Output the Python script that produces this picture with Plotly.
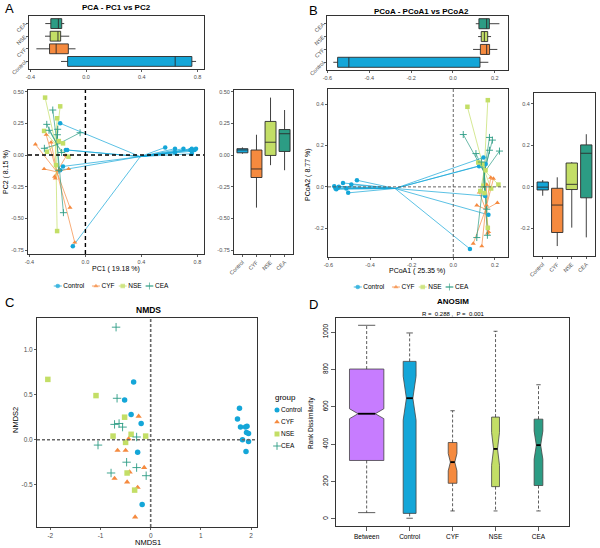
import numpy as np
import plotly.graph_objects as go

W, H = 600, 548
FONT = "Liberation Sans, Arial, sans-serif"

groups = ["Control", "CYF", "NSE", "CEA"]
group_colors = ["#14A6D8", "#F58A3F", "#C3DE66", "#2C9C84"]
group_symbols = ["circle", "triangle-up", "square", "cross-thin-open"]

# ---------------- PCA (panel A) ----------------
pca_ctrl_x = [-0.18, -0.14, -0.13, -0.16, -0.18, -0.09, 0.57, 0.64, 0.70, 0.75, 0.76, 0.78, 0.79, 0.76, 0.64, 0.76]
pca_ctrl_y = [0.25, 0.04, 0.04, -0.09, -0.12, -0.72, 0.06, 0.05, 0.05, 0.04, 0.05, 0.04, 0.05, 0.01, 0.02, 0.03]
pca_cyf_x = [-0.357, -0.28, -0.245, -0.295, -0.22, -0.215, -0.135, -0.12, -0.11, -0.076, -0.19]
pca_cyf_y = [0.084, 0.16, 0.10, -0.11, -0.17, -0.185, -0.005, -0.11, -0.415, -0.69, -0.12]
pca_nse_x = [-0.288, -0.18, -0.202, -0.295, -0.274, -0.16, -0.121, -0.202, -0.21, -0.19]
pca_nse_y = [0.453, 0.384, 0.29, 0.19, 0.026, 0.092, -0.013, -0.60, -0.08, 0.11]
pca_cea_x = [-0.233, -0.276, -0.26, -0.198, -0.038, -0.293, -0.157, -0.19, -0.20, -0.17]
pca_cea_y = [0.355, 0.242, 0.195, 0.203, 0.176, 0.053, -0.455, -0.12, 0.16, 0.02]

# ---------------- PCoA (panel B) ----------------
pcoa_ctrl_x = [-0.463, -0.53, -0.49, -0.572, -0.566, -0.514, -0.505, -0.562, -0.555, -0.55, 0.145, 0.124, 0.156, 0.153, 0.169, 0.08]
pcoa_ctrl_y = [0.032, 0.019, 0.011, 0.003, -0.008, -0.008, -0.029, -0.012, -0.005, 0.0, 0.142, 0.10, 0.11, -0.044, -0.135, -0.30]
pcoa_cyf_x = [0.18, 0.193, 0.161, 0.125, 0.113, 0.212, 0.17, 0.096, 0.137, 0.165, 0.16]
pcoa_cyf_y = [0.045, 0.040, 0.011, -0.027, -0.089, -0.077, -0.218, -0.274, -0.287, -0.225, -0.09]
pcoa_nse_x = [0.068, 0.166, 0.217, 0.182, 0.166, 0.12, 0.14, 0.15, 0.145, 0.13, 0.155]
pcoa_nse_y = [0.387, 0.419, 0.011, -0.008, -0.198, 0.118, 0.11, -0.03, 0.005, -0.02, 0.08]
pcoa_cea_x = [0.048, 0.109, 0.174, 0.188, 0.222, 0.174, 0.161, 0.113, 0.164, 0.135, 0.15]
pcoa_cea_y = [0.253, 0.161, 0.239, 0.226, 0.173, 0.177, -0.108, -0.245, -0.234, 0.12, 0.0]

# ---------------- NMDS (panel C) ----------------
nmds_ctrl_x = [-0.34, -0.52, -0.39, -0.19, -0.26, -0.17, 1.77, 1.73, 1.79, 1.89, 1.92, 1.91, 1.95, 1.83, 1.95, 1.90]
nmds_ctrl_y = [0.64, 0.44, 0.28, 0.18, -0.14, -0.72, 0.35, 0.23, 0.14, 0.14, 0.15, 0.08, 0.07, 0.0, -0.02, -0.13]
nmds_cyf_x = [-0.24, -0.44, -0.66, -0.50, -0.13, -0.42, -0.72, -0.47, -0.26, -0.31]
nmds_cyf_y = [0.26, 0.01, -0.12, -0.12, -0.31, -0.36, -0.43, -0.47, -0.53, -0.86]
nmds_nse_x = [-2.05, -1.09, -0.52, -0.75, -0.39, -0.10, -0.50, -0.47, -0.32]
nmds_nse_y = [0.67, 0.49, 0.25, 0.04, 0.06, 0.04, -0.03, -0.37, -0.56]
nmds_cea_x = [-0.69, -0.67, -0.72, -0.63, -0.56, -0.28, -1.05, -0.48, -0.28, -0.79, -0.09]
nmds_cea_y = [1.25, 0.46, 0.17, 0.18, 0.14, 0.03, -0.06, -0.25, -0.31, -0.37, -0.40]

# ---------------- ANOSIM (panel D) ----------------
anosim_labels = ["Between", "Control", "CYF", "NSE", "CEA"]
anosim_colors = ["#C77CFF", "#14A6D8", "#F58A3F", "#C3DE66", "#2C9C84"]
anosim_lower = [34, 4, 43, 43, 43]
anosim_q1 = [313, 30, 191, 173, 179]
anosim_median = [563, 646, 304, 375, 395]
anosim_q3 = [802, 843, 409, 545, 534]
anosim_upper = [1036, 995, 579, 1004, 718]
samples_per_group = [16, 11, 10, 11]
anosim_R = 0.288
anosim_P = 0.001

# tick labels
pca_x_ticks = [-0.4, 0.0, 0.4, 0.8]
pca_x_text = ["-0.4", "0.0", "0.4", "0.8"]
pca_y_ticks = [-0.75, -0.5, -0.25, 0.0, 0.25, 0.5]
pca_y_text = ["-0.75", "-0.50", "-0.25", "0.00", "0.25", "0.50"]
pcoa_x_ticks = [-0.6, -0.4, -0.2, 0.0, 0.2]
pcoa_x_text = ["-0.6", "-0.4", "-0.2", "0.0", "0.2"]
pcoa_y_ticks = [-0.2, 0.0, 0.2, 0.4]
pcoa_y_text = ["-0.2", "0.0", "0.2", "0.4"]
nmds_x_ticks = [-2, -1, 0, 1, 2]
nmds_x_text = ["-2", "-1", "0", "1", "2"]
nmds_y_ticks = [-0.5, 0.0, 0.5, 1.0]
nmds_y_text = ["-0.5", "0.0", "0.5", "1.0"]
anosim_y_ticks = [0, 200, 400, 600, 800, 1000]


def px_x(p):
    return p / W


def px_y(p):
    return 1 - p / H


fig = go.Figure()


def box_stats(v):
    v = np.asarray(v, float)
    q1, med, q3 = np.percentile(v, [25, 50, 75])
    iqr = q3 - q1
    lo = v[v >= q1 - 1.5 * iqr].min()
    hi = v[v <= q3 + 1.5 * iqr].max()
    return q1, med, q3, lo, hi


def marker_style(color, symbol, size):
    if symbol.startswith("cross"):
        sz = [s + 0.5 if s else 0 for s in size] if isinstance(size, list) else size + 0.5
        return dict(symbol=symbol, size=sz, color=color, line=dict(color=color, width=0.9))
    return dict(symbol=symbol, size=size, color=color, line=dict(width=0))


def add_boxes(values_list, xa, ya, horizontal):
    for g, c, v in zip(groups, group_colors, values_list):
        q1, med, q3, lo, hi = box_stats(v)
        kw = dict(q1=[q1], median=[med], q3=[q3], lowerfence=[lo], upperfence=[hi])
        if horizontal:
            kw.update(y=[g], orientation="h")
        else:
            kw.update(x=[g])
        fig.add_trace(go.Box(**kw, xaxis=xa, yaxis=ya, fillcolor=c,
                             line=dict(color="#2b2b2b", width=0.9), width=0.78,
                             whiskerwidth=0, boxpoints=False, showlegend=False,
                             hoverinfo="skip"))


def add_spider(xs_list, ys_list, xa, ya, size):
    for g, c, xs, ys in zip(groups, group_colors, xs_list, ys_list):
        cx, cy = np.mean(xs), np.mean(ys)
        lx, ly = [], []
        for x, y in zip(xs, ys):
            lx += [x, cx, None]
            ly += [y, cy, None]
        fig.add_trace(go.Scatter(x=lx, y=ly, mode="lines", line=dict(color=c, width=0.7),
                                 xaxis=xa, yaxis=ya, showlegend=False, hoverinfo="skip"))
    for g, c, s, xs, ys in zip(groups, group_colors, group_symbols, xs_list, ys_list):
        fig.add_trace(go.Scatter(x=xs, y=ys, mode="markers", marker=marker_style(c, s, size),
                                 xaxis=xa, yaxis=ya, showlegend=False, hoverinfo="skip"))


# Panel A
add_boxes([pca_ctrl_x, pca_cyf_x, pca_nse_x, pca_cea_x], "x", "y", True)
add_spider([pca_ctrl_x, pca_cyf_x, pca_nse_x, pca_cea_x],
           [pca_ctrl_y, pca_cyf_y, pca_nse_y, pca_cea_y], "x2", "y2", 4.5)
add_boxes([pca_ctrl_y, pca_cyf_y, pca_nse_y, pca_cea_y], "x3", "y3", False)

# Panel B
add_boxes([pcoa_ctrl_x, pcoa_cyf_x, pcoa_nse_x, pcoa_cea_x], "x4", "y4", True)
add_spider([pcoa_ctrl_x, pcoa_cyf_x, pcoa_nse_x, pcoa_cea_x],
           [pcoa_ctrl_y, pcoa_cyf_y, pcoa_nse_y, pcoa_cea_y], "x5", "y5", 4.5)
add_boxes([pcoa_ctrl_y, pcoa_cyf_y, pcoa_nse_y, pcoa_cea_y], "x6", "y6", False)

# Panel C
for g, c, s, xs, ys in zip(groups, group_colors, group_symbols,
                           [nmds_ctrl_x, nmds_cyf_x, nmds_nse_x, nmds_cea_x],
                           [nmds_ctrl_y, nmds_cyf_y, nmds_nse_y, nmds_cea_y]):
    fig.add_trace(go.Scatter(x=xs, y=ys, mode="markers", name=g, marker=marker_style(c, s, 5.5),
                             xaxis="x7", yaxis="y7", showlegend=False, hoverinfo="skip"))

# Panel D
pairs = [n * (n - 1) / 2 for n in samples_per_group]
total = sum(samples_per_group)
anosim_n = [total * (total - 1) / 2 - sum(pairs)] + pairs
sq = np.sqrt(anosim_n)
anosim_width = 0.8 * sq / sq.max()
for i, (lab, c) in enumerate(zip(anosim_labels, anosim_colors)):
    q1, med, q3 = anosim_q1[i], anosim_median[i], anosim_q3[i]
    lo, hi = anosim_lower[i], anosim_upper[i]
    w = anosim_width[i]
    ns = 1.58 * (q3 - q1) / np.sqrt(anosim_n[i])
    fig.add_trace(go.Scatter(x=[i, i, None, i, i], y=[q3, hi, None, q1, lo], mode="lines",
                             line=dict(color="#333333", width=0.8, dash="3px,2px"),
                             xaxis="x8", yaxis="y8", showlegend=False, hoverinfo="skip"))
    fig.add_trace(go.Scatter(x=[i - w / 4, i + w / 4, None, i - w / 4, i + w / 4],
                             y=[hi, hi, None, lo, lo], mode="lines",
                             line=dict(color="#333333", width=0.8),
                             xaxis="x8", yaxis="y8", showlegend=False, hoverinfo="skip"))
    fig.add_trace(go.Box(x=[i], q1=[q1], median=[med], q3=[q3], lowerfence=[q1], upperfence=[q3],
                         notched=True, notchspan=[ns], notchwidth=0.25, width=w,
                         fillcolor=c, line=dict(color="#444444", width=0.8), whiskerwidth=0,
                         boxpoints=False, xaxis="x8", yaxis="y8", showlegend=False,
                         hoverinfo="skip"))
    fig.add_trace(go.Scatter(x=[i - w / 4, i + w / 4], y=[med, med], mode="lines",
                             line=dict(color="black", width=1.8),
                             xaxis="x8", yaxis="y8", showlegend=False, hoverinfo="skip"))


# ---------------- legends (drawn on a page-pixel overlay axis) ----------------
def text_width(s, size):
    return sum(0.68 if ch.isupper() else 0.52 for ch in s) * size


LEG_FONT = 6.5


def add_h_legend(center_px, y_px, size):
    key_w, key_gap, item_gap = 8, 1.5, 4
    widths = [key_w + key_gap + text_width(g, LEG_FONT) for g in groups]
    x = center_px - (sum(widths) + item_gap * (len(groups) - 1)) / 2
    for g, c, s, w in zip(groups, group_colors, group_symbols, widths):
        fig.add_trace(go.Scatter(x=[x, x + key_w / 2, x + key_w], y=[y_px] * 3, mode="lines+markers",
                                 line=dict(color=c, width=0.8), marker=marker_style(c, s, [0, size, 0]),
                                 xaxis="x9", yaxis="y9", showlegend=False, hoverinfo="skip", cliponaxis=False))
        fig.add_trace(go.Scatter(x=[x + key_w + key_gap], y=[y_px], mode="text", text=[g],
                                 textposition="middle right", textfont=dict(size=LEG_FONT, family=FONT, color="black"),
                                 xaxis="x9", yaxis="y9", showlegend=False, hoverinfo="skip", cliponaxis=False))
        x += w + item_gap


def add_v_legend(x_px, y0_px, step_px, size):
    for i, (g, c, s) in enumerate(zip(groups, group_colors, group_symbols)):
        y = y0_px + i * step_px
        fig.add_trace(go.Scatter(x=[x_px], y=[y], mode="markers", marker=marker_style(c, s, size),
                                 xaxis="x9", yaxis="y9", showlegend=False, hoverinfo="skip", cliponaxis=False))
        fig.add_trace(go.Scatter(x=[x_px + 4], y=[y], mode="text", text=[g], textposition="middle right",
                                 textfont=dict(size=LEG_FONT, family=FONT, color="black"),
                                 xaxis="x9", yaxis="y9", showlegend=False, hoverinfo="skip", cliponaxis=False))


add_h_legend(111, 286, 4.5)
add_h_legend(411, 287, 4.5)
add_v_legend(277, 410, 12, 5)


def ax(**kw):
    d = dict(showline=True, mirror=True, linecolor="#333333", linewidth=1, ticks="outside",
             ticklen=2, tickwidth=0.8, tickcolor="#333333",
             tickfont=dict(size=5.5, color="#4D4D4D", family=FONT),
             showgrid=False, zeroline=False, fixedrange=True, automargin=False)
    d.update(kw)
    return d


cat_kw = dict(type="category", categoryorder="array", categoryarray=groups, range=[-0.6, 3.6])

pca_xr = [-0.41, 0.847]
pca_yr = [-0.781, 0.513]
pcoa_xr = [-0.602, 0.263]
hidden = dict(visible=False, fixedrange=True, automargin=False, showgrid=False, zeroline=False)

fig.update_layout(
    template="none",
    width=W, height=H, margin=dict(l=0, r=0, t=0, b=0, autoexpand=False),
    paper_bgcolor="white", plot_bgcolor="rgba(0,0,0,0)",
    font=dict(family=FONT, color="black"),
    showlegend=False, boxmode="overlay",
    xaxis=ax(domain=[px_x(29), px_x(204)], anchor="y", range=pca_xr, tickvals=pca_x_ticks, ticktext=pca_x_text),
    yaxis=ax(domain=[px_y(69), px_y(16)], anchor="x", tickangle=-45, **cat_kw),
    xaxis2=ax(domain=[px_x(28), px_x(204)], anchor="y2", range=pca_xr, tickvals=pca_x_ticks, ticktext=pca_x_text),
    yaxis2=ax(domain=[px_y(254), px_y(90)], anchor="x2", range=pca_yr, tickvals=pca_y_ticks, ticktext=pca_y_text),
    xaxis3=ax(domain=[px_x(234), px_x(293)], anchor="y3", tickangle=-45, **cat_kw),
    yaxis3=ax(domain=[px_y(254), px_y(90)], anchor="x3", range=pca_yr, tickvals=pca_y_ticks, ticktext=pca_y_text),
    xaxis4=ax(domain=[px_x(327), px_x(508)], anchor="y4", range=pcoa_xr, tickvals=pcoa_x_ticks, ticktext=pcoa_x_text),
    yaxis4=ax(domain=[px_y(70), px_y(16)], anchor="x4", tickangle=-45, **cat_kw),
    xaxis5=ax(domain=[px_x(328), px_x(508)], anchor="y5", range=pcoa_xr, tickvals=pcoa_x_ticks, ticktext=pcoa_x_text),
    yaxis5=ax(domain=[px_y(257), px_y(89)], anchor="x5", range=[-0.339, 0.473], tickvals=pcoa_y_ticks, ticktext=pcoa_y_text),
    xaxis6=ax(domain=[px_x(534), px_x(595)], anchor="y6", tickangle=-45, **cat_kw),
    yaxis6=ax(domain=[px_y(256), px_y(93)], anchor="x6", range=[-0.335, 0.452], tickvals=pcoa_y_ticks, ticktext=pcoa_y_text),
    xaxis7=ax(domain=[px_x(37), px_x(257)], anchor="y7", range=[-2.266, 2.119], tickvals=nmds_x_ticks, ticktext=nmds_x_text,
              tickfont=dict(size=6.5, color="#4D4D4D", family=FONT)),
    yaxis7=ax(domain=[px_y(527), px_y(318)], anchor="x7", range=[-0.97, 1.352], tickvals=nmds_y_ticks, ticktext=nmds_y_text,
              tickfont=dict(size=6.5, color="#4D4D4D", family=FONT)),
    xaxis8=ax(domain=[px_x(336), px_x(569)], anchor="y8", range=[-0.714, 4.71], tickvals=list(range(len(anosim_labels))),
              ticktext=anosim_labels, ticklen=4, tickfont=dict(size=6.5, color="black", family=FONT)),
    yaxis8=ax(domain=[px_y(526), px_y(318)], anchor="x8", range=[-37.5, 1075], tickvals=anosim_y_ticks,
              ticktext=[str(v) for v in anosim_y_ticks], tickangle=-90, ticklen=4,
              tickfont=dict(size=6.5, color="black", family=FONT)),
    xaxis9=dict(domain=[0, 1], anchor="y9", range=[0, W], **hidden),
    yaxis9=dict(domain=[0, 1], anchor="x9", range=[H, 0], **hidden),
)


def zero_lines(xa, ya, color, width, dash):
    fig.add_shape(type="line", xref=xa, yref=ya + " domain", x0=0, x1=0, y0=0, y1=1,
                  line=dict(color=color, width=width, dash=dash))
    fig.add_shape(type="line", xref=xa + " domain", yref=ya, x0=0, x1=1, y0=0, y1=0,
                  line=dict(color=color, width=width, dash=dash))


zero_lines("x2", "y2", "black", 1.4, "4px,3px")
zero_lines("x5", "y5", "#555555", 0.9, "3px,2px")
zero_lines("x7", "y7", "#666666", 1.6, "3px,2px")


def note(text, x, y, size, bold=False, angle=0, xanchor="center"):
    fig.add_annotation(text=f"<b>{text}</b>" if bold else text, x=px_x(x), y=px_y(y),
                       xref="paper", yref="paper", showarrow=False, textangle=angle,
                       xanchor=xanchor, yanchor="middle", font=dict(size=size, family=FONT, color="black"))


note("A", 3, 9, 13, xanchor="left")
note("PCA - PC1 vs PC2", 116, 8, 8, bold=True)
note("PC1 ( 19.18 %)", 116, 269, 7)
note("PC2 ( 8.15 %)", 6, 172, 7, angle=-90)
note("B", 307, 10, 13, xanchor="left")
note("PCoA - PCoA1 vs PCoA2", 421, 11, 8, bold=True)
note("PCoA1 ( 25.35 %)", 417, 271, 7)
note("PCoA2 ( 8.77 %)", 308, 175, 7, angle=-90)
note("C", 3, 302, 13, xanchor="left")
note("NMDS", 148, 310, 8.5, bold=True)
note("NMDS1", 148, 542, 7.5)
note("NMDS2", 15, 420, 7.5, angle=-90)
note("group", 273, 398, 8, xanchor="left")
note("D", 307, 304, 13, xanchor="left")
note("ANOSIM", 453, 301, 8, bold=True)
note(f"R =  {anosim_R} ,  P =  {anosim_P}", 453, 314, 6)
note("Rank Dissimilarity", 311, 423, 6.5, angle=-90)

fig.write_html("out.html", config={"displayModeBar": False, "staticPlot": True},
               post_script="document.body.style.margin='0';document.body.style.overflow='hidden';")
